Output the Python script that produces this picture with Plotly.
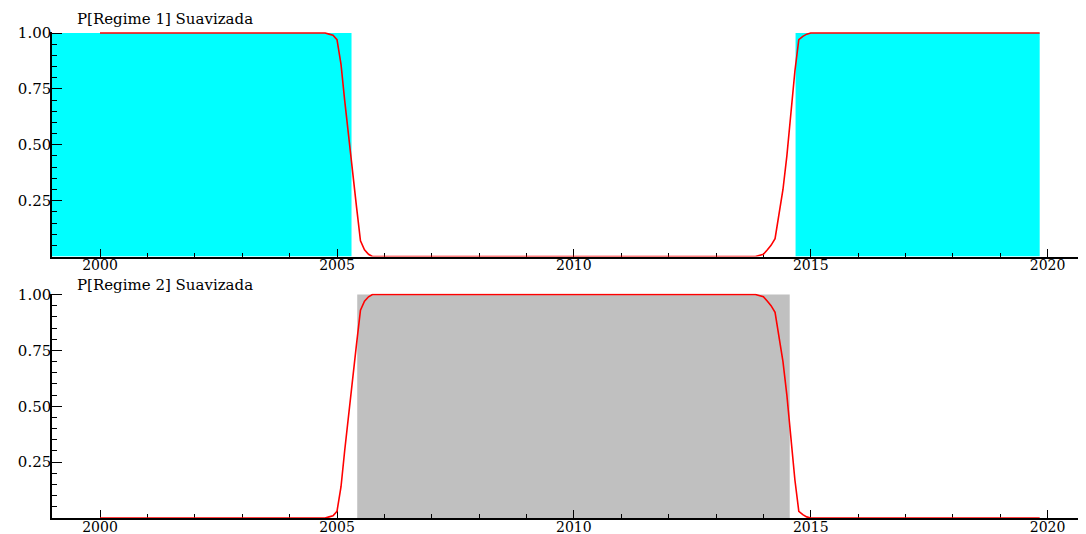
import plotly.graph_objects as go

# ---------------- data ----------------
dates = ["2000-01-01", "2004-10-01", "2004-11-01", "2004-12-01", "2005-01-01",
         "2005-02-01", "2005-03-01", "2005-04-01", "2005-05-01", "2005-06-01",
         "2005-07-01", "2005-08-01", "2005-09-01", "2005-10-01", "2013-11-01",
         "2013-12-01", "2014-01-01", "2014-02-01", "2014-03-01", "2014-04-01",
         "2014-05-01", "2014-06-01", "2014-07-01", "2014-08-01", "2014-09-01",
         "2014-10-01", "2014-11-01", "2014-12-01", "2015-01-01", "2019-11-01"]

p_regime1 = [1.0, 1.0, 0.995, 0.99, 0.97, 0.86, 0.70, 0.53, 0.37, 0.22,
             0.07, 0.03, 0.01, 0.0, 0.0, 0.005, 0.01, 0.03, 0.05, 0.08,
             0.18, 0.30, 0.45, 0.63, 0.83, 0.97, 0.985, 0.995, 1.0, 1.0]

p_regime2 = [0.0, 0.0, 0.005, 0.01, 0.03, 0.14, 0.30, 0.47, 0.63, 0.78,
             0.93, 0.97, 0.99, 1.0, 1.0, 0.995, 0.99, 0.97, 0.95, 0.92,
             0.82, 0.70, 0.55, 0.37, 0.17, 0.03, 0.015, 0.005, 0.0, 0.0]

regime1_start = ["1998-12-27", "2014-09-06"]
regime1_end = ["2005-04-23", "2019-11-01"]
regime2_start = ["2005-06-06"]
regime2_end = ["2014-07-23"]

titles = ["P[Regime 1] Suavizada", "P[Regime 2] Suavizada"]
y_tickvals = [0.25, 0.5, 0.75, 1.0]
y_ticktext = ["0.25", "0.50", "0.75", "1.00"]
x_range = ["1998-12-27", "2020-10-23"]

# ---------------- figure ----------------
FONT = "DejaVu Serif"
fig = go.Figure()

fig.add_trace(go.Scatter(x=dates, y=p_regime1, mode="lines",
                         line=dict(color="#ff0000", width=1.6),
                         xaxis="x", yaxis="y", showlegend=False))
fig.add_trace(go.Scatter(x=dates, y=p_regime2, mode="lines",
                         line=dict(color="#ff0000", width=1.6),
                         xaxis="x2", yaxis="y2", showlegend=False))

for s, e in zip(regime1_start, regime1_end):
    fig.add_shape(type="rect", xref="x", yref="y", x0=s, x1=e, y0=0, y1=1,
                  fillcolor="#00ffff", line=dict(width=0), layer="below")
for s, e in zip(regime2_start, regime2_end):
    fig.add_shape(type="rect", xref="x2", yref="y2", x0=s, x1=e, y0=0, y1=1,
                  fillcolor="#c0c0c0", line=dict(width=0), layer="below")

xax = dict(type="date", range=x_range, tick0="2000-01-01", dtick="M60",
           tickformat="%Y", ticks="inside", ticklen=8, tickwidth=1,
           tickcolor="black", showline=True, linecolor="black", linewidth=1.5,
           showgrid=False, zeroline=False, layer="below traces",
           ticklabelstandoff=-5,
           tickfont=dict(family=FONT, size=14, color="black"),
           minor=dict(tick0="2000-01-01", dtick="M12", ticks="inside",
                      ticklen=4, tickcolor="black", showgrid=False),
           automargin=False)
yax = dict(range=[0, 1.0045], tickvals=y_tickvals, ticktext=y_ticktext,
           ticks="inside", ticklen=10, tickwidth=1, tickcolor="black",
           showline=True, linecolor="black", linewidth=1.5,
           showgrid=False, zeroline=False, layer="below traces",
           ticklabelstandoff=-4,
           tickfont=dict(family=FONT, size=15, color="black"),
           minor=dict(tick0=0, dtick=0.05, ticks="inside", ticklen=5,
                      tickcolor="black", showgrid=False),
           automargin=False)

# the page body adds an 8 px offset, so the figure is 8 px smaller
fig.update_layout(
    width=1078, height=526, autosize=False,
    margin=dict(l=44, r=0, t=24, b=16),
    paper_bgcolor="white", plot_bgcolor="white",
    xaxis=dict(domain=[0, 1], anchor="y", **xax),
    yaxis=dict(domain=[0.538, 1.0], anchor="x", **yax),
    xaxis2=dict(domain=[0, 1], anchor="y2", **xax),
    yaxis2=dict(domain=[0.0, 0.4619], anchor="x2", **yax),
    annotations=[
        dict(text=titles[0], xref="paper", yref="paper", x=0.022, y=1.027,
             xanchor="left", yanchor="middle", showarrow=False,
             font=dict(family=FONT, size=15, color="black")),
        dict(text=titles[1], xref="paper", yref="paper", x=0.022, y=0.479,
             xanchor="left", yanchor="middle", showarrow=False,
             font=dict(family=FONT, size=15, color="black")),
    ],
)

fig.write_html("out.html")
